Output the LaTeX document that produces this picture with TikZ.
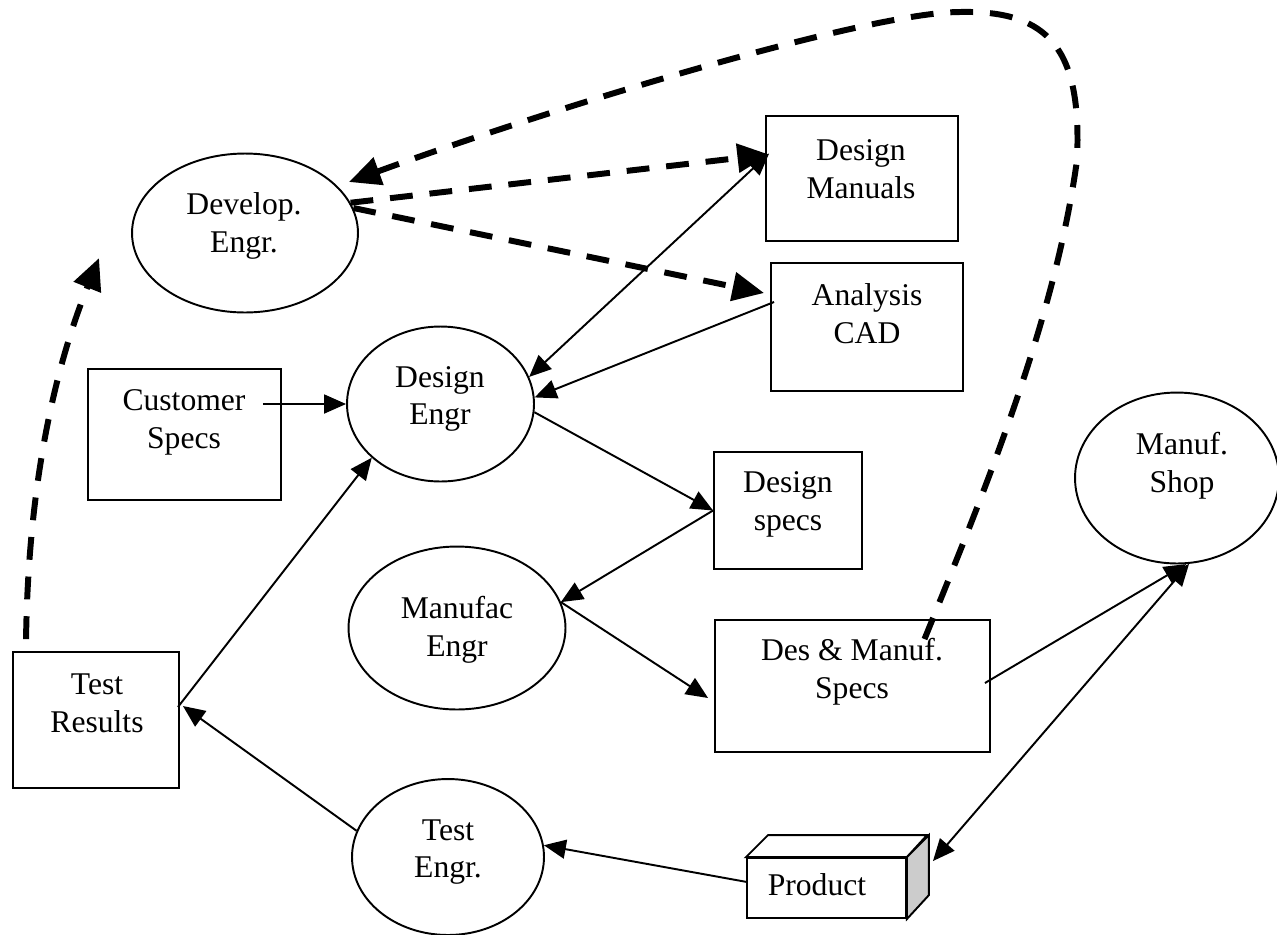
\documentclass[tikz,border=0pt]{standalone}
\usepackage{fontspec}
\setmainfont{Liberation Serif}
\usetikzlibrary{positioning, arrows.meta, shapes.geometric, calc}

\begin{document}
\begin{tikzpicture}[x=0.02cm, y=-0.02cm,
  head/.tip={Triangle[length=12.5pt, width=10.8pt]},
  bighead/.tip={Triangle[length=18pt, width=16pt]},
  block/.style={draw, rectangle, line width=1.1pt, inner sep=0pt},
  oval/.style={draw, ellipse, line width=1.1pt, inner sep=0pt},
  lbl/.style={align=center, inner sep=0pt, font=\fontsize{18}{21.5}\selectfont},
  flow/.style={line width=1.1pt, -head},
  twoway/.style={line width=1.1pt, head-head},
  feedback/.style={line width=3.4pt, dash pattern=on 13pt off 9.6pt, -bighead}]

  \useasboundingbox (0,0) rectangle (1277,934);

  % Engineers
  \node[oval, minimum width=4.52cm, minimum height=3.18cm] (develop) at (245,233) {};
  \node[lbl] (developlbl) at (244,226) {Develop.\\Engr.};
  \node[oval, minimum width=3.74cm, minimum height=3.1cm] (deseng) at (440.5,404) {};
  \node[lbl] (desenglbl) at (440,399) {Design\\Engr};
  \node[oval, minimum width=4.34cm, minimum height=3.26cm] (manufac) at (457,628) {};
  \node[lbl] (manufaclbl) at (457,630) {Manufac\\Engr};
  \node[oval, minimum width=4.08cm, minimum height=3.42cm] (manufshop) at (1177,478) {};
  \node[lbl] (manufshoplbl) at (1182,466) {Manuf.\\Shop};
  \node[oval, minimum width=3.84cm, minimum height=3.12cm] (testeng) at (448,857) {};
  \node[lbl] (testenglbl) at (448,852) {Test\\Engr.};

  % Documents
  \node[block, minimum width=3.84cm, minimum height=2.5cm] (dman) at (862,178.5) {};
  \node[lbl] (dmanlbl) at (861,169) {Design\\Manuals};
  \node[block, minimum width=3.84cm, minimum height=2.56cm] (acad) at (867,327) {};
  \node[lbl] (acadlbl) at (867,314) {Analysis\\CAD};
  \node[block, minimum width=3.86cm, minimum height=2.62cm] (cspec) at (184.5,434.5) {};
  \node[lbl] (cspeclbl) at (184,422) {Customer\\Specs};
  \node[block, minimum width=2.96cm, minimum height=2.34cm] (dspec) at (788,510.5) {};
  \node[lbl] (dspeclbl) at (788,504) {Design\\specs};
  \node[block, minimum width=5.5cm, minimum height=2.64cm] (desmanuf) at (852.5,686) {};
  \node[lbl] (desmanuflbl) at (852,672) {Des \& Manuf.\\Specs};
  \node[block, minimum width=3.32cm, minimum height=2.72cm] (testres) at (96,720) {};
  \node[lbl] (testreslbl) at (97,703) {Test\\Results};

  % Product box
  \node[block, minimum width=3.18cm, minimum height=1.2cm] (product) at (826.5,888) {};
  \draw[line width=1.1pt] (product.north west) -- ++(22,-22) -- ++(159,0) -- (product.north east) -- cycle;
  \draw[line width=1.1pt, fill=black!20] (product.north east) -- ++(22,-22) -- ++(0,60) -- (product.south east) -- cycle;
  \node[lbl] (productlbl) at (817,885) {Product};

  % Solid flows
  \draw[flow] ($(cspec.east)+(-19,-30.5)$) -- (deseng.west);
  \draw[twoway] (deseng.17) -- ($(dman.west)+(4,-25)$);
  \draw[flow] ($(acad.west)+(4,-25)$) -- (deseng.4);
  \draw[flow] (deseng.-5) -- (dspec.west);
  \draw[flow] (dspec.west) -- (manufac.14);
  \draw[flow] (manufac.14) -- ($(desmanuf.west)+(-6,12)$);
  \draw[flow] ($(desmanuf.east)+(-6,-3)$) -- (manufshop.-84);
  \draw[twoway] ($(product.north east)+(26,4)$) -- (manufshop.-82);
  \draw[flow] ($(product.west)+(1,-6)$) -- (testeng.7);
  \draw[flow] (testeng.164) -- ($(testres.east)+(3,-14)$);
  \draw[flow] ($(testres.east)+(-2,-13)$) -- (deseng.218);

  % Dashed feedback
  \draw[feedback] ($(testres.north west)+(14,-12)$) .. controls (28,500) and (50,380) .. ($(develop.west)+(-32,25)$);
  \draw[feedback] (develop.16) -- ($(dman.west)+(4,-24)$);
  \draw[feedback] (develop.13) -- ($(acad.west)+(-6,-34)$);
  \draw[feedback] ($(desmanuf.north)+(72,20)$) .. controls (985,490) and (1055,320) .. (1077,160)
    .. controls (1082,50) and (1050,10) .. (960,12)
    .. controls (870,12) and (560,105) .. ($(develop.east)+(-10,-51)$);

\end{tikzpicture}
\end{document}
